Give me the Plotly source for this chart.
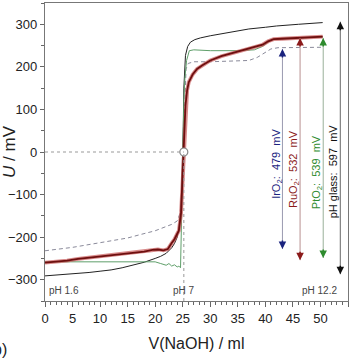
import plotly.graph_objects as go

# pH glass electrode (black)
glass_x = [0, 2, 5, 8, 10, 12, 14, 16, 17, 18, 20, 21, 22, 23, 23.5, 24, 24.3, 24.6, 24.8, 25.0, 25.1, 25.2, 25.5, 25.9, 26.4, 27.2, 28.2, 30, 32, 35, 37, 40, 42, 46, 50.4]
glass_y = [-291, -289, -287, -283, -280, -277, -272, -266, -262, -259, -250, -245, -238, -225, -215, -200, -180, -140, -90, -20, 60, 150, 227, 248, 258, 264, 268, 273, 278, 285, 289, 293, 296, 300, 304]

# RuO2 (dark red)
ru_x = [0, 2, 4, 6, 8, 10, 12, 14, 16, 18, 19.5, 20.5, 21.5, 22.3, 23, 23.5, 24, 24.3, 24.7, 25.0, 25.2, 25.3, 25.5, 25.8, 26.1, 26.8, 27.6, 28.5, 30, 32, 34, 36, 38, 39.5, 40.5, 41.5, 43, 45, 48, 50.4]
ru_y = [-260, -258, -255, -251, -248, -245, -242, -240, -237, -234, -230, -229, -231, -228, -214, -205, -192, -185, -143, -60, 0, 50, 110, 145, 164, 182, 195, 203, 215, 225, 232, 239, 245, 252, 260, 265, 266, 267, 269, 271]

# PtO2 (green)
pt_x = [0, 5, 10, 15, 20, 21, 22, 22.5, 23, 23.5, 24, 24.3, 24.6, 24.8, 25.0, 25.2, 25.4, 25.7, 26.2, 27, 30, 35, 38, 39.5, 40.5, 41.5, 43, 46, 50.4]
pt_y = [-258, -258, -257, -257, -258, -262, -266, -262, -268, -265, -270, -268, -272, -150, 20, 120, 175, 215, 238, 240, 238, 238, 240, 248, 258, 265, 267, 268, 270]

# IrO2 (grey dashed)
ir_x = [0, 5, 10, 15, 17.3, 20, 22, 23, 24, 24.5, 24.8, 25.0, 25.2, 25.4, 25.6, 26, 27, 30, 35, 37, 38.5, 40, 41, 42.3, 46, 50.4]
ir_y = [-232, -224, -213, -202, -194, -185, -175, -170, -162, -145, -110, -30, 60, 150, 195, 208, 212, 212, 213, 215, 222, 235, 242, 245, 245, 246]

# span arrows
arrow_names = ["IrO<sub>2</sub>:  479  mV", "RuO<sub>2</sub>:  532  mV", "PtO<sub>2</sub>:  539  mV", "pH glass:  597  mV"]
arrow_x = [43.1, 46.3, 50.5, 53.6]
arrow_bottom = [-228, -254, -249, -287]
arrow_top = [242, 268, 268, 306]
label_x = [42.1, 45.2, 49.4, 52.3]
label_y = [-28, -40, -47, -45]
arrow_colors = ["#1a237e", "#8b1a1a", "#2e8b2e", "#111111"]
arrow_line_colors = ["#9a9ab0", "#b89090", "#9ab09a", "#666666"]

ph_labels = ["pH 1.6", "pH 7", "pH 12.2"]
ph_x = [0.4, 25.2, 53.4]
ph_anchor = ["left", "center", "right"]

eq_x = 25.2

fig = go.Figure()
fig.add_trace(go.Scatter(x=glass_x, y=glass_y, mode="lines", line=dict(color="#222222", width=1)))
fig.add_trace(go.Scatter(x=ir_x, y=ir_y, mode="lines", line=dict(color="#8a8a9a", width=1, dash="4px,3px")))
fig.add_trace(go.Scatter(x=pt_x, y=pt_y, mode="lines", line=dict(color="#5f9f6a", width=1)))
fig.add_trace(go.Scatter(x=ru_x, y=ru_y, mode="lines", line=dict(color="rgba(200,90,90,0.7)", width=3.8)))
fig.add_trace(go.Scatter(x=ru_x, y=ru_y, mode="lines", line=dict(color="#6e0f0f", width=1.8)))

# dotted guides
fig.add_shape(type="line", x0=0, x1=eq_x, y0=0, y1=0, line=dict(color="#999999", width=1, dash="dot"))
fig.add_shape(type="line", x0=eq_x, x1=eq_x, y0=-350, y1=0, line=dict(color="#999999", width=1, dash="dot"))
fig.add_trace(go.Scatter(x=[eq_x], y=[0], mode="markers",
                         marker=dict(symbol="circle", size=8, color="white", line=dict(color="#888888", width=1.2))))

annotations = []
for i in range(len(arrow_names)):
    fig.add_shape(type="line", x0=arrow_x[i], x1=arrow_x[i], y0=arrow_bottom[i], y1=arrow_top[i],
                  line=dict(color=arrow_line_colors[i], width=1))
    annotations.append(dict(x=arrow_x[i], y=arrow_top[i], ax=0, ay=10, xref="x", yref="y", text="",
                            showarrow=True, arrowhead=2, arrowsize=1, arrowwidth=1.5,
                            arrowcolor=arrow_colors[i], standoff=0))
    annotations.append(dict(x=arrow_x[i], y=arrow_bottom[i], ax=0, ay=-10, xref="x", yref="y", text="",
                            showarrow=True, arrowhead=2, arrowsize=1, arrowwidth=1.5,
                            arrowcolor=arrow_colors[i], standoff=0))
    annotations.append(dict(x=label_x[i], y=label_y[i], xref="x", yref="y", text=arrow_names[i],
                            showarrow=False, textangle=-90, xanchor="center", yanchor="middle",
                            font=dict(size=11, color=arrow_colors[i], family="Liberation Sans, Arial")))

for i in range(len(ph_labels)):
    annotations.append(dict(x=ph_x[i], y=-326, xref="x", yref="y", text=ph_labels[i], showarrow=False,
                            xanchor=ph_anchor[i], yanchor="middle",
                            font=dict(size=10, color="#444444", family="Liberation Sans, Arial")))

annotations.append(dict(x=0, y=0, xref="paper", yref="paper", text="b)", showarrow=False,
                        xanchor="right", yanchor="middle", xshift=-36, yshift=-48,
                        font=dict(size=16, color="#222222", family="Liberation Sans, Arial")))

fig.update_layout(
    width=355, height=359,
    margin=dict(l=45, r=7, t=3, b=58, autoexpand=False),
    plot_bgcolor="white", paper_bgcolor="white",
    showlegend=False,
    annotations=annotations,
    font=dict(family="Liberation Sans, Arial", color="#222222"),
)
fig.update_xaxes(range=[0, 55], tickvals=[0, 5, 10, 15, 20, 25, 30, 35, 40, 45, 50, 55],
                 automargin=False,
                 ticks="outside", ticklen=5, tickcolor="#666666", tickwidth=1,
                 minor=dict(dtick=1, ticks="outside", ticklen=3, tickcolor="#666666"),
                 showgrid=False, zeroline=False, showline=True, linecolor="#777777", linewidth=1.2,
                 mirror=True, tickfont=dict(size=13, color="#222222"),
                 title=dict(text="V(NaOH) / ml", font=dict(size=16, color="#222222"), standoff=13))
fig.update_yaxes(range=[-350, 350], tickvals=[-300, -200, -100, 0, 100, 200, 300],
                 automargin=False,
                 ticks="outside", ticklen=4, tickcolor="#666666", tickwidth=1,
                 minor=dict(dtick=50, ticks="outside", ticklen=3, tickcolor="#666666"),
                 showgrid=False, zeroline=False, showline=True, linecolor="#777777", linewidth=1.2,
                 mirror=True, tickfont=dict(size=13, color="#222222"),
                 title=dict(text="<i>U</i> / mV", font=dict(size=17, color="#222222"), standoff=2))

fig.write_html("out.html", config={"displayModeBar": False},
               post_script="document.body.style.margin='0';document.body.style.overflow='hidden';")
